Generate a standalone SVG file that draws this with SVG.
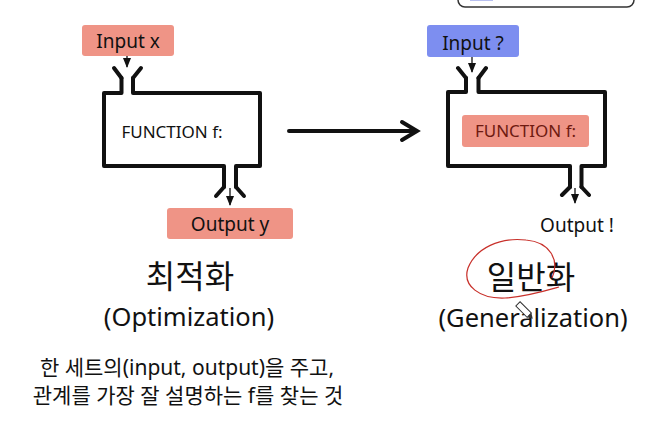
<svg xmlns="http://www.w3.org/2000/svg" width="659" height="428" viewBox="0 0 659 428">
<defs>
<style>
.t{font-family:"Noto Sans","Noto Sans CJK KR",sans-serif;fill:#111;text-anchor:middle}
.box{fill:none;stroke:#111;stroke-width:4;stroke-linejoin:round;stroke-linecap:round}
.fun{fill:none;stroke:#111;stroke-width:4;stroke-linecap:round}
.thin{stroke:#111;stroke-width:1.3;fill:none}
.salmon{fill:#ef9486}
.blue{fill:#7d8ef0}
</style>
<marker id="ah" markerWidth="10" markerHeight="8" refX="9" refY="4" orient="auto" markerUnits="userSpaceOnUse">
<path d="M0,0 L10,4 L0,8 Z" fill="#111"/>
</marker>
</defs>
<rect width="659" height="428" fill="#fff"/>

<g id="top-partial">
<rect x="458" y="-20" width="176" height="27" rx="7" fill="none" stroke="#333" stroke-width="1.5"/>
<rect x="470" y="-4" width="23" height="5" fill="#b8c0f0"/>
</g>

<g id="input-x">
<rect class="salmon" x="82" y="25" width="92" height="31" rx="3"/>
<text class="t" x="128" y="48" font-size="19">Input x</text>
</g>

<g id="function-left">
<path class="box" d="M121.5 78 V93 H104 V166 H224 V187"/>
<path class="box" d="M133 78 V93 H260 V166 H236 V187"/>
<path class="fun" d="M121.5 78 L114 68 M133 78 L141 68 M224 187 L216 196 M236 187 L244 196"/>
<text class="t" x="172" y="138" font-size="17">FUNCTION f:</text>
</g>

<g id="output-y">
<rect class="salmon" x="167" y="208" width="126" height="31" rx="3"/>
<text class="t" x="230" y="231" font-size="19">Output y</text>
</g>

<g id="input-q">
<rect class="blue" x="427" y="25" width="92" height="32" rx="3"/>
<text class="t" x="473" y="50" font-size="19">Input ?</text>
</g>

<g id="function-right">
<path class="box" d="M466 78 V92 H448 V166 H570 V187"/>
<path class="box" d="M478.5 78 V92 H605 V166 H581.5 V187"/>
<path class="fun" d="M466 78 L458 68 M478.5 78 L486 68 M570 187 L562 195 M581.5 187 L589 195"/>
<rect class="salmon" x="462" y="115" width="127" height="32" rx="3"/>
<text class="t" x="525.5" y="137" font-size="17" style="fill:#6e1a10">FUNCTION f:</text>
</g>

<g id="output-excl">
<text class="t" x="577" y="232" font-size="19">Output !</text>
</g>

<g id="connectors">
<line class="thin" x1="127" y1="56" x2="127" y2="67" marker-end="url(#ah)"/>
<line class="thin" x1="230" y1="188" x2="230" y2="205" marker-end="url(#ah)"/>
<line class="thin" x1="472" y1="57" x2="472" y2="72" marker-end="url(#ah)"/>
<line class="thin" x1="575" y1="188" x2="575" y2="203" marker-end="url(#ah)"/>
<path d="M289 131 H416 M402 122 L417 131 L402 140" fill="none" stroke="#111" stroke-width="4" stroke-linecap="round" stroke-linejoin="miter"/>
</g>

<g id="labels">
<text class="t" x="190" y="288" font-size="32">최적화</text>
<text class="t" x="189" y="326" font-size="25.5">(Optimization)</text>
<text class="t" x="531" y="289" font-size="32">일반화</text>
<text class="t" x="533" y="327" font-size="25.5">(Generalization)</text>
<text class="t" x="187" y="375" font-size="21">한 세트의(input, output)을 주고,</text>
<text class="t" x="188" y="403" font-size="21">관계를 가장 잘 설명하는 f를 찾는 것</text>
</g>

<g id="annotation">
<path d="M552 278 C560 260 550 242 526 240 C500 237 476 248 468 268 C462 286 480 299 505 298 C525 297 545 291 559 287" fill="none" stroke="#c8302a" stroke-width="1.2"/>
<g transform="translate(525 311) rotate(-45)">
<rect x="-3" y="-10" width="6" height="16" fill="#fff" stroke="#333" stroke-width="1"/>
<path d="M-3 6 L0 11 L3 6 Z" fill="#333"/>
</g>
</g>
</svg>
